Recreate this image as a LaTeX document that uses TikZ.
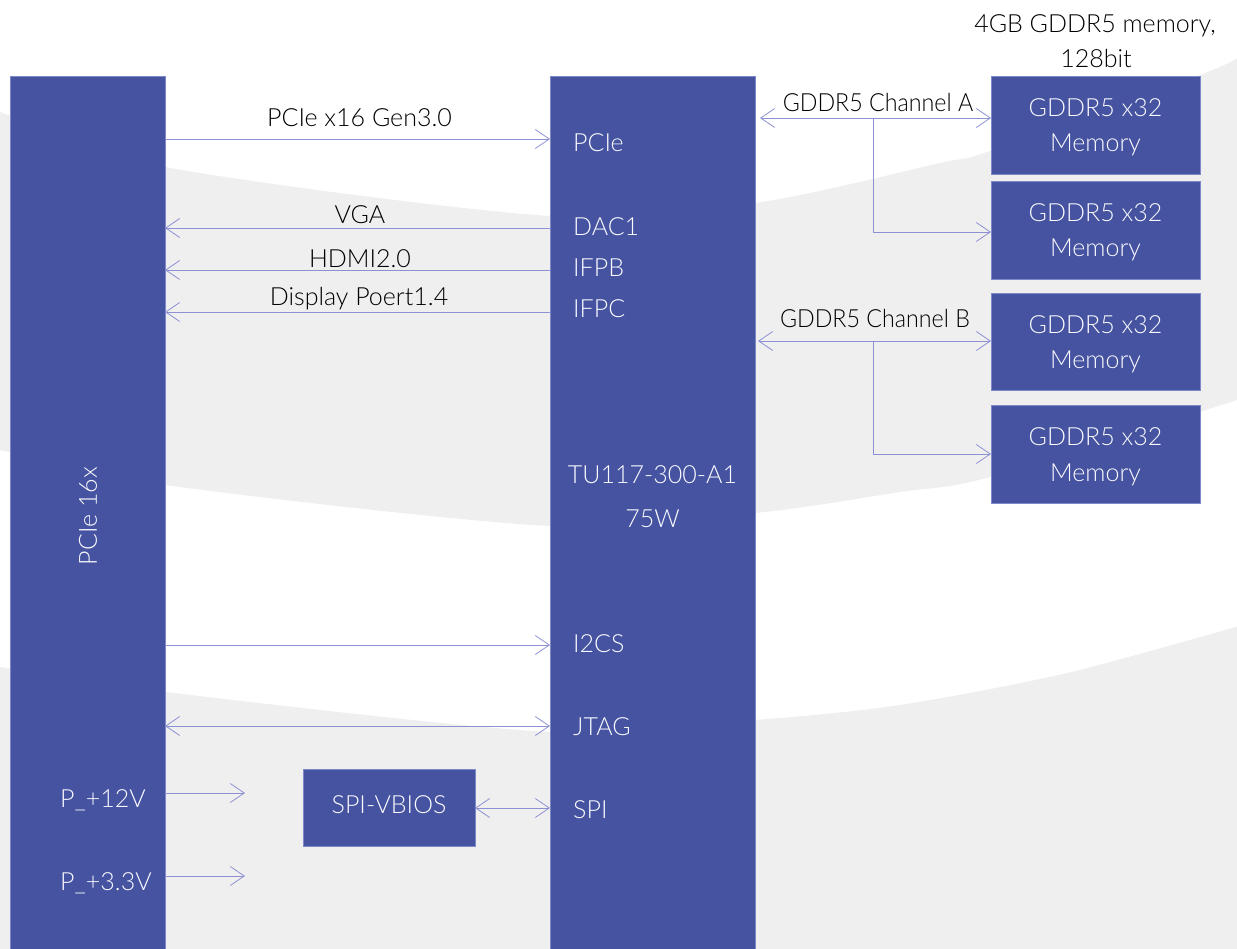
\documentclass[tikz,border=0pt]{standalone}
\usepackage{fontspec}
\setmainfont{Lato}[UprightFont={* Light}]
\usetikzlibrary{arrows.meta}
\definecolor{boxfill}{HTML}{4553A0}
\definecolor{boxline}{HTML}{7F88C8}
\definecolor{linkc}{HTML}{8D91D3}
\definecolor{bggray}{HTML}{EFEFEF}
\definecolor{txt}{HTML}{000000}
\definecolor{wtxt}{HTML}{FAFAFF}
\newcommand\dfont{\fontsize{25}{35}\selectfont}
\begin{document}
\begin{tikzpicture}[x=1pt,y=-1pt,
  blk/.style={draw=boxline, line width=0.8pt, fill=boxfill, inner sep=0pt, outer sep=0pt, text=wtxt, font=\dfont, align=center},
  lbl/.style={inner sep=0pt, anchor=base, text=txt, font=\dfont},
  inl/.style={inner sep=0pt, anchor=base west, text=wtxt, font=\dfont},
  inc/.style={inner sep=0pt, anchor=base, text=wtxt, font=\dfont},
  tipc/.tip={Straight Barb[length=14pt,width=19pt,line width=0.8pt]},
  arr/.style={draw=linkc, line width=0.9pt, -tipc},
  arrb/.style={draw=linkc, line width=0.9pt, tipc-tipc}
]
\useasboundingbox (0,0) rectangle (1237,949);
\fill[white] (0,0) rectangle (1237,949);
% background bands
\fill[bggray] plot[smooth] coordinates {(-2,111) (0,112) (165,167) (550,216) (755,203) (940,163) (990,151) (1200,75) (1239,57)}
  -- (1239,399) -- plot[smooth] coordinates {(1237,400) (990,477) (900,492) (755,513) (550,526) (165,485) (0,450) (-2,449)} -- cycle;
\fill[bggray] plot[smooth] coordinates {(-2,666) (0,667) (165,692) (550,732) (755,720) (900,705) (1067,673) (1239,626)}
  -- (1239,951) -- (-2,951) -- cycle;

% blocks
\node[blk, minimum width=155pt, minimum height=885pt, anchor=north west] (host) at (10,76) {};
\node[blk, minimum width=205pt, minimum height=885pt, anchor=north west] (gpu) at (550,76) {};
\node[blk, minimum width=209pt, minimum height=98pt, anchor=north west] (m1) at (991,76) {};
\node[blk, minimum width=209pt, minimum height=98pt, anchor=north west] (m2) at (991,181) {};
\node[blk, minimum width=209pt, minimum height=97pt, anchor=north west] (m3) at (991,293) {};
\node[blk, minimum width=209pt, minimum height=98pt, anchor=north west] (m4) at (991,405) {};
\node[blk, minimum width=172pt, minimum height=77pt, anchor=north west] (vbios) at (303,769) {};

% memory texts
\node[inc] (m1a) at (m1.center |- 0,117) {GDDR5 x32};
\node[inc] (m1b) at (m1.center |- 0,152) {Memory};
\node[inc] (m2a) at (m2.center |- 0,222) {GDDR5 x32};
\node[inc] (m2b) at (m2.center |- 0,257) {Memory};
\node[inc] (m3a) at (m3.center |- 0,333.5) {GDDR5 x32};
\node[inc] (m3b) at (m3.center |- 0,368.5) {Memory};
\node[inc] (m4a) at (m4.center |- 0,446) {GDDR5 x32};
\node[inc] (m4b) at (m4.center |- 0,481) {Memory};
\node[inc] (tvb) at (vbios.center |- 0,813) {SPI-VBIOS};

% texts in host
\node[inc, anchor=center, rotate=90] (thost) at (88,516) {PCIe 16x};
\node[inl] (tp12) at (60,807) {P\_+12V};
\node[inl] (tp33) at (60,890) {P\_+3.3V};

% texts in gpu
\node[inl] (gPCIe) at (573,152) {PCIe};
\node[inl] (gDAC) at (573,236) {DAC1};
\node[inl] (gIFPB) at (573,277) {IFPB};
\node[inl] (gIFPC) at (573,318) {IFPC};
\node[inc] (gName) at (652.5,483) {TU117-300-A1};
\node[inc] (gPow) at (652.5,527) {75W};
\node[inl] (gI2C) at (573,652) {I2CS};
\node[inl] (gJTAG) at (573,735) {JTAG};
\node[inl] (gSPI) at (573,818) {SPI};

% link labels
\node[lbl] (lPCIe) at (359.5,127) {PCIe x16 Gen3.0};
\node[lbl] (lVGA) at (360,224) {VGA};
\node[lbl] (lHDMI) at (360,268) {HDMI2.0};
\node[lbl] (lDP) at (359,306) {Display Poert1.4};
\node[lbl, xscale=0.93] (lChA) at (878,112) {GDDR5 Channel A};
\node[lbl, xscale=0.93] (lChB) at (875,328) {GDDR5 Channel B};
\node[lbl] (lMemA) at (1095,33) {4GB GDDR5 memory,};
\node[lbl] (lMemB) at (1096,68) {128bit};

% connectors
\draw[arr] (host.east |- 0,139) -- (gpu.west |- 0,139);
\draw[arr] (gpu.west |- 0,228) -- (host.east |- 0,228);
\draw[arr] (gpu.west |- 0,270) -- (host.east |- 0,270);
\draw[arr] (gpu.west |- 0,312) -- (host.east |- 0,312);
\draw[arr] (host.east |- 0,645) -- (gpu.west |- 0,645);
\draw[arrb] (host.east |- 0,726) -- (gpu.west |- 0,726);
\coordinate (p12) at (245,793);
\coordinate (p33) at (245,876);
\draw[arr] (host.east |- p12) -- (p12);
\draw[arr] (host.east |- p33) -- (p33);
\draw[arrb] (vbios.east |- 0,808) -- (gpu.west |- 0,808);

\draw[arrb, shorten <=5pt] (gpu.east |- 0,118) -- (m1.west |- 0,118);
\coordinate (jA) at (873,118);
\draw[arr] (jA) |- (m2.west |- 0,232);
\draw[arrb, shorten <=3pt] (gpu.east |- 0,341) -- (m3.west |- 0,341);
\coordinate (jB) at (873,341);
\draw[arr] (jB) |- (m4.west |- 0,454);
\end{tikzpicture}
\end{document}
